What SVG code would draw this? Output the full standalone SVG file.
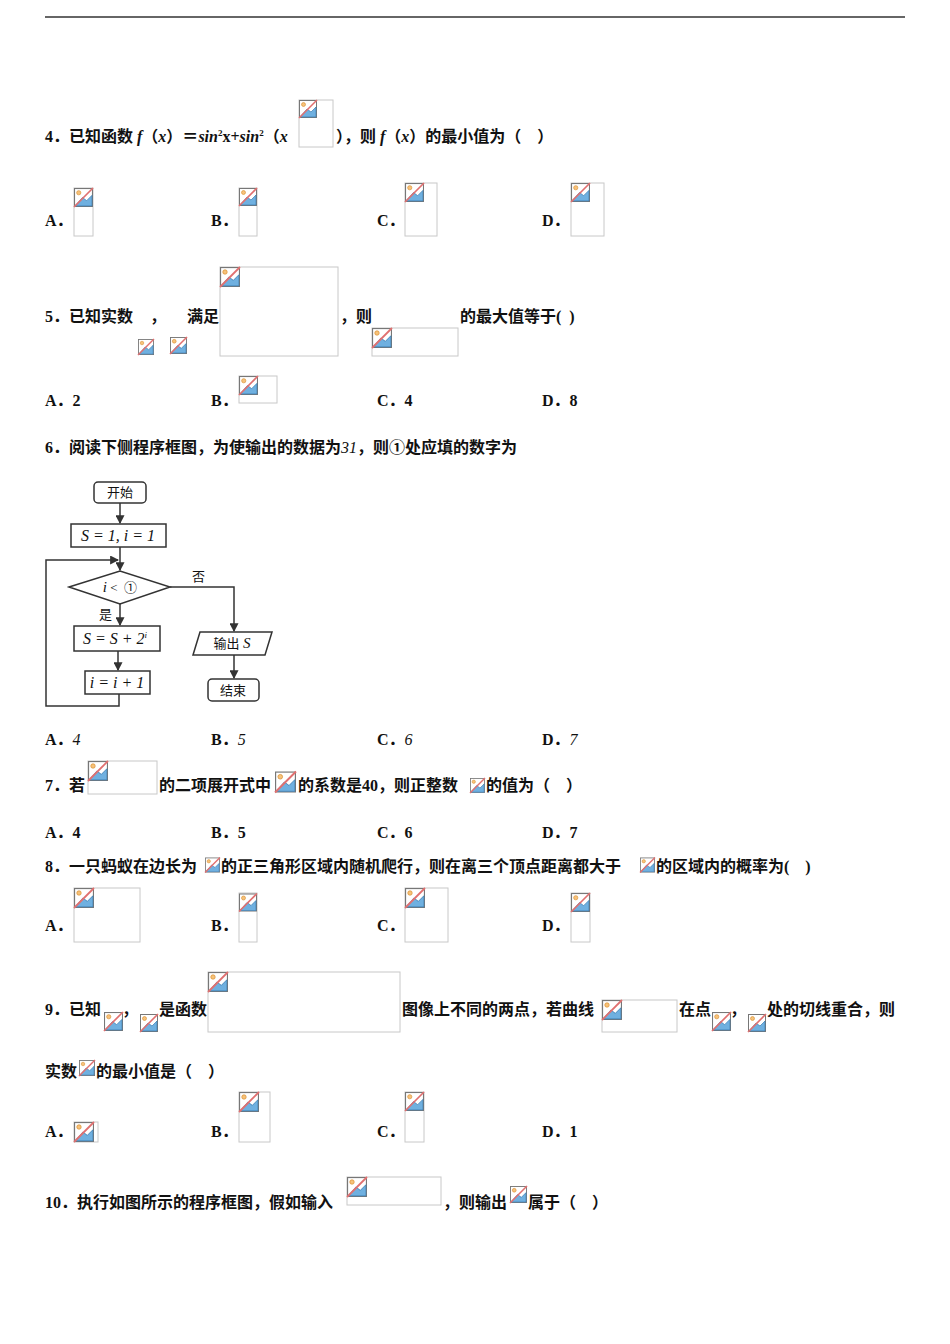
<svg xmlns="http://www.w3.org/2000/svg" width="950" height="1344" viewBox="0 0 950 1344">
<style>
text{font-family:"Liberation Serif","Noto Sans CJK SC",serif;font-size:16px;font-weight:bold;fill:#111;white-space:pre}
.it{font-style:italic}
.ph{fill:#fff;stroke:#c8c8c8;stroke-width:1}
.fc{fill:#fff;stroke:#333;stroke-width:1.5}
.fl{fill:none;stroke:#333;stroke-width:1.5}
.ft{font-size:13px;font-weight:normal}
.fm{font-size:16px;font-weight:normal;font-style:italic}
</style>
<defs>
<symbol id="ic" viewBox="0 0 18 18" overflow="visible">
<rect x="0.5" y="0.5" width="17" height="17" fill="#fff" stroke="#777"/>
<path d="M1 17 L8 9 L12 12 L17 7 L17 17 Z" fill="#6fb0e0" stroke="#3a7bb0" stroke-width="0.7"/>
<circle cx="4.5" cy="4.5" r="2" fill="#f6c27a" stroke="#d98b2b" stroke-width="0.6"/>
<line x1="0" y1="18" x2="18" y2="0" stroke="#e07070" stroke-width="1.6"/>
</symbol>
<marker id="ar" viewBox="0 0 8 8" refX="7" refY="4" markerWidth="6" markerHeight="6" orient="auto"><path d="M0 0 L8 4 L0 8 Z" fill="#333"/></marker>
</defs>
<rect width="950" height="1344" fill="#fff"/>
<line x1="45" y1="17" x2="905" y2="17" stroke="#333" stroke-width="1.5"/>

<g id="q4">
<text x="45" y="142">4．已知函数 <tspan class="it">f</tspan>（<tspan class="it">x</tspan>）＝<tspan class="it">sin</tspan><tspan font-size="9" dy="-6">2</tspan><tspan dy="6">x+</tspan><tspan class="it">sin</tspan><tspan font-size="9" dy="-6">2</tspan><tspan dy="6">（</tspan><tspan class="it">x</tspan></text>
<rect class="ph" x="299" y="100" width="34" height="47"/><use href="#ic" x="299" y="100" width="18" height="18"/>
<text x="336" y="142">），则 <tspan class="it">f</tspan>（<tspan class="it">x</tspan>）的最小值为（    ）</text>
<text x="45" y="226">A．</text><rect class="ph" x="74" y="188" width="19" height="48"/><use href="#ic" x="74" y="188" width="19" height="19"/>
<text x="211" y="226">B．</text><rect class="ph" x="239" y="188" width="18" height="48"/><use href="#ic" x="239" y="188" width="18" height="18"/>
<text x="377" y="226">C．</text><rect class="ph" x="405" y="183" width="32" height="53"/><use href="#ic" x="405" y="183" width="19" height="19"/>
<text x="542" y="226">D．</text><rect class="ph" x="571" y="183" width="33" height="53"/><use href="#ic" x="571" y="183" width="19" height="19"/>
</g>

<g id="q5">
<text x="45" y="322">5．已知实数</text><text x="150" y="322">，</text><text x="187" y="322">满足</text>
<rect class="ph" x="220" y="267" width="118" height="89"/><use href="#ic" x="220" y="267" width="20" height="20"/>
<text x="340" y="322">，则</text>
<rect class="ph" x="372" y="328" width="86" height="28"/><use href="#ic" x="372" y="328" width="20" height="20"/>
<text x="460" y="322">的最大值等于(  )</text>
<use href="#ic" x="138" y="338" width="16" height="18"/><use href="#ic" x="170" y="336" width="17" height="19"/>
<text x="45" y="406">A．2</text>
<text x="211" y="406">B．</text><rect class="ph" x="239" y="376" width="38" height="27"/><use href="#ic" x="239" y="376" width="19" height="19"/>
<text x="377" y="406">C．4</text>
<text x="542" y="406">D．8</text>
</g>

<g id="q6">
<text x="45" y="453">6．阅读下侧程序框图，为使输出的数据为<tspan class="it" font-weight="normal">31</tspan>，则①处应填的数字为</text>
</g>

<g id="connectors">
<line class="fl" x1="120" y1="503" x2="120" y2="523" marker-end="url(#ar)"/>
<line class="fl" x1="120" y1="547" x2="120" y2="570" marker-end="url(#ar)"/>
<line class="fl" x1="120" y1="604" x2="120" y2="625" marker-end="url(#ar)"/>
<line class="fl" x1="118" y1="651" x2="118" y2="670" marker-end="url(#ar)"/>
<polyline class="fl" points="119,694 119,706 46,706 46,560 118,560" marker-end="url(#ar)"/>
<polyline class="fl" points="170,587 234,587 234,631" marker-end="url(#ar)"/>
<line class="fl" x1="234" y1="655" x2="234" y2="678" marker-end="url(#ar)"/>
</g>
<g id="n-start"><rect class="fc" x="94" y="482" width="52" height="21" rx="4"/><text class="ft" x="120" y="497" text-anchor="middle">开始</text></g>
<g id="n-init"><rect class="fc" x="71" y="524" width="95" height="23"/><text class="fm" x="118" y="541" text-anchor="middle">S = 1, i = 1</text></g>
<g id="n-cond"><polygon class="fc" points="69,587 120,571 170,587 120,604"/><text class="ft" x="120" y="592" text-anchor="middle"><tspan class="it" font-size="15">i</tspan> &lt;  ①</text></g>
<text class="ft" x="192" y="581">否</text>
<text class="ft" x="99" y="619">是</text>
<g id="n-sum"><rect class="fc" x="74" y="626" width="86" height="25"/><text class="fm" x="115" y="644" text-anchor="middle">S = S + 2<tspan font-size="9" dy="-6">i</tspan></text></g>
<g id="n-inc"><rect class="fc" x="85" y="671" width="65" height="23"/><text class="fm" x="117" y="688" text-anchor="middle">i = i + 1</text></g>
<g id="n-out"><polygon class="fc" points="200,632 272,632 265,655 193,655"/><text class="ft" x="232" y="648" text-anchor="middle">输出 <tspan class="it" font-size="15">S</tspan></text></g>
<g id="n-end"><rect class="fc" x="208" y="679" width="51" height="22" rx="4"/><text class="ft" x="233" y="695" text-anchor="middle">结束</text></g>

<g id="q6opts">
<text x="45" y="745">A．<tspan class="it" font-weight="normal">4</tspan></text>
<text x="211" y="745">B．<tspan class="it" font-weight="normal">5</tspan></text>
<text x="377" y="745">C．<tspan class="it" font-weight="normal">6</tspan></text>
<text x="542" y="745">D．<tspan class="it" font-weight="normal">7</tspan></text>
</g>

<g id="q7">
<text x="45" y="791">7．若</text>
<rect class="ph" x="88" y="761" width="69" height="33"/><use href="#ic" x="88" y="761" width="20" height="20"/>
<text x="159" y="791">的二项展开式中</text>
<use href="#ic" x="275" y="771" width="21" height="22"/>
<text x="298" y="791">的系数是40，则正整数</text>
<use href="#ic" x="470" y="777" width="15" height="17"/>
<text x="486" y="791">的值为（    ）</text>
<text x="45" y="838">A．4</text><text x="211" y="838">B．5</text><text x="377" y="838">C．6</text><text x="542" y="838">D．7</text>
</g>

<g id="q8">
<text x="45" y="872">8．一只蚂蚁在边长为</text>
<use href="#ic" x="205" y="856" width="15" height="18"/>
<text x="221" y="872">的正三角形区域内随机爬行，则在离三个顶点距离都大于</text>
<use href="#ic" x="640" y="856" width="15" height="18"/>
<text x="656" y="872">的区域内的概率为(    )</text>
<text x="45" y="931">A．</text><rect class="ph" x="74" y="888" width="66" height="54"/><use href="#ic" x="74" y="888" width="20" height="20"/>
<text x="211" y="931">B．</text><rect class="ph" x="239" y="893" width="18" height="49"/><use href="#ic" x="239" y="893" width="18" height="19"/>
<text x="377" y="931">C．</text><rect class="ph" x="405" y="888" width="43" height="54"/><use href="#ic" x="405" y="888" width="20" height="20"/>
<text x="542" y="931">D．</text><rect class="ph" x="571" y="893" width="19" height="49"/><use href="#ic" x="571" y="893" width="19" height="19"/>
</g>

<g id="q9">
<text x="45" y="1015">9．已知</text>
<use href="#ic" x="104" y="1012" width="19" height="19"/>
<text x="122" y="1015">，</text>
<use href="#ic" x="140" y="1014" width="18" height="18"/>
<text x="159" y="1015">是函数</text>
<rect class="ph" x="208" y="972" width="192" height="60"/><use href="#ic" x="208" y="972" width="20" height="20"/>
<text x="402" y="1015">图像上不同的两点，若曲线</text>
<rect class="ph" x="602" y="1000" width="75" height="32"/><use href="#ic" x="602" y="1000" width="20" height="20"/>
<text x="679" y="1015">在点</text>
<use href="#ic" x="712" y="1012" width="19" height="19"/>
<text x="730" y="1015">，</text>
<use href="#ic" x="748" y="1014" width="18" height="18"/>
<text x="767" y="1015">处的切线重合，则</text>
<text x="45" y="1077">实数</text>
<use href="#ic" x="79" y="1059" width="16" height="18"/>
<text x="96" y="1077">的最小值是（    ）</text>
<text x="45" y="1137">A．</text><rect class="ph" x="74" y="1122" width="24" height="20"/><use href="#ic" x="74" y="1122" width="20" height="20"/>
<text x="211" y="1137">B．</text><rect class="ph" x="239" y="1092" width="31" height="50"/><use href="#ic" x="239" y="1092" width="20" height="20"/>
<text x="377" y="1137">C．</text><rect class="ph" x="405" y="1092" width="19" height="50"/><use href="#ic" x="405" y="1092" width="19" height="19"/>
<text x="542" y="1137">D．1</text>
</g>

<g id="q10">
<text x="45" y="1208">10．执行如图所示的程序框图，假如输入</text>
<rect class="ph" x="347" y="1177" width="94" height="28"/><use href="#ic" x="347" y="1177" width="20" height="20"/>
<text x="443" y="1208">，则输出</text>
<use href="#ic" x="510" y="1185" width="17" height="19"/>
<text x="528" y="1208">属于（    ）</text>
</g>
</svg>
